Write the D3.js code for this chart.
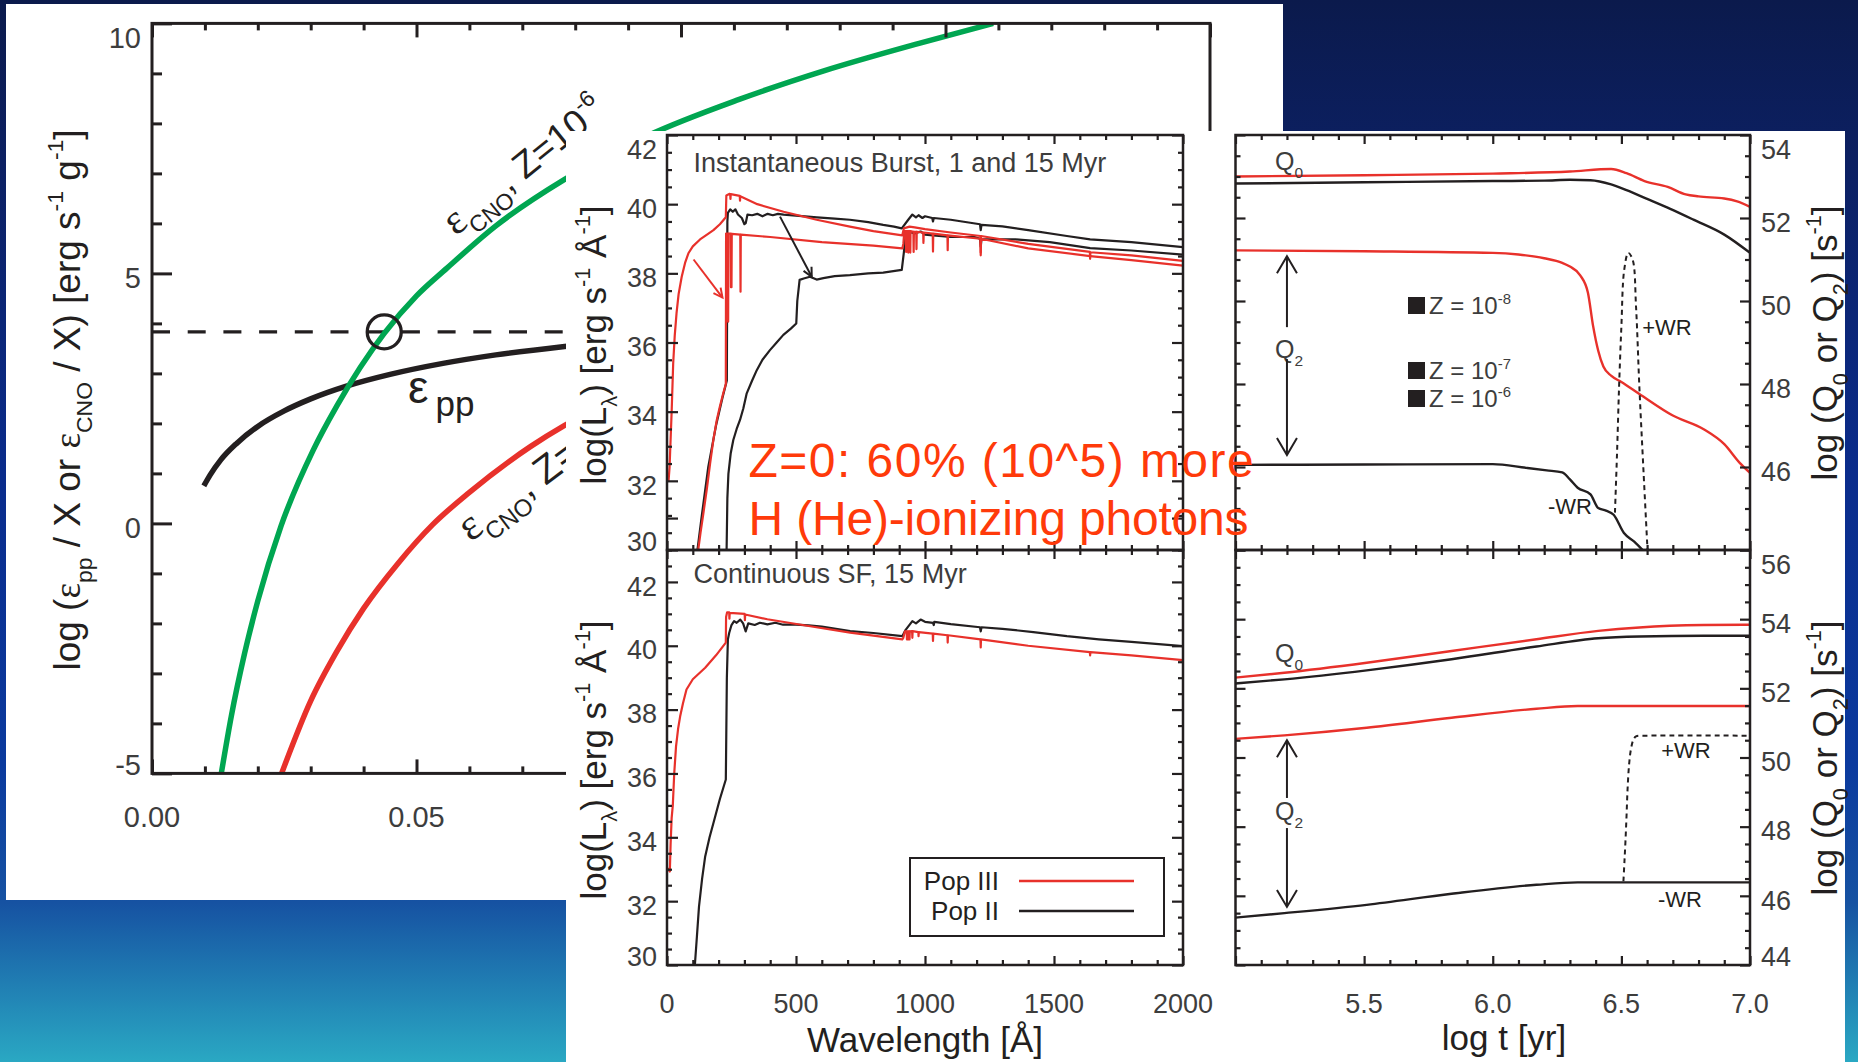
<!DOCTYPE html>
<html>
<head>
<meta charset="utf-8">
<script src="https://cdn.jsdelivr.net/npm/d3@7"></script>
<style>
  html, body { margin: 0; padding: 0; background: #0b1a4c; }
  svg { display: block; }
  text { font-family: "Liberation Sans", Arial, Helvetica, sans-serif; }
</style>
</head>
<body>
<svg id="chart" width="1858" height="1062"></svg>
<script>
// ---------------- Panel A: nuclear energy generation rates ----------------
// [x, log(eps/X)]
const eppCurve = [[0.0098,0.75],[0.011,0.97],[0.013,1.27],[0.016,1.6],[0.02,1.94],[0.025,2.25],
  [0.03,2.49],[0.0366,2.74],[0.045,2.98],[0.055,3.2],[0.065,3.37],[0.078,3.54],[0.09,3.67]];
const cnoZ6Curve = [[0.0131,-5],[0.015,-3.85],[0.0175,-2.6],[0.02,-1.55],[0.0244,-0.05],[0.0305,1.47],
  [0.035,2.36],[0.0439,3.8],[0.05,4.55],[0.0557,5.1],[0.065,5.95],[0.078,6.88],[0.0936,7.75],
  [0.111,8.48],[0.127,9.05],[0.145,9.6],[0.159,10]];
const cnoZ0Curve = [[0.0245,-5],[0.03,-3.55],[0.035,-2.55],[0.04,-1.7],[0.0465,-0.8],[0.0531,-0.02],
  [0.06,0.62],[0.0716,1.54],[0.078,1.96],[0.09,2.6]];
const eqLevel = 3.83;          // dashed reference level
const eqPoint = [0.0439, 3.83]; // circled crossing
const p1XTicks = [0, 0.05, 0.10, 0.15, 0.20];
const p1YTicks = [-5, 0, 5, 10];

// ---------------- Panel B: spectra, instantaneous burst ----------------
// [wavelength (A), log L_lambda]
const burstPop3Young = [[6,32.0],[10,32.4],[14,33.2],[18,34.0],[24,35.4],[30,36.2],[37,36.85],[45,37.4],
  [57,37.9],[70,38.3],[83,38.58],[100,38.78],[128,38.98],[155,39.12],[180,39.25],[205,39.42],[228,39.62],
  [230,40.25],[243,40.3],[245,40.29],[246,40.15],[247,40.29],[282,40.24],[283,40.1],[284,40.23],
  [350,40.0],[452,39.78],[580,39.55],[709,39.35],[800,39.22],[912,39.1],[918,39.3],[940,39.35],
  [960,39.33],[1000,39.28],[1100,39.18],[1215,39.08],[1216,38.6],[1217,39.08],[1400,38.85],
  [1639,38.62],[1640,38.42],[1641,38.61],[1800,38.52],[2000,38.36]];
const burstPop3Old = [[121,30.0],[130,30.5],[141,31.06],[155,31.8],[167,32.5],[180,33.2],[193,33.76],
  [205,34.15],[218,34.53],[228,34.8],[229,39.15],[236,39.15],[237,36.6],[238,39.15],[247,39.15],
  [248,37.6],[250,37.6],[251,39.14],[284,39.12],[285,37.47],[286,39.12],[400,39.05],[600,38.9],
  [800,38.8],[912,38.72],[916,38.85],[920,39.22],[926,39.22],[927,38.62],[928,39.22],[934,39.22],
  [935,38.6],[936,39.22],[942,39.22],[943,38.6],[944,39.22],[955,39.2],[956,38.62],[957,39.2],
  [966,39.2],[967,38.7],[968,39.2],[993,39.18],[994,38.88],[995,39.18],[1030,39.15],[1031,38.63],
  [1032,39.15],[1087,39.1],[1088,38.67],[1089,39.1],[1215,39.0],[1216,38.52],[1217,39.0],
  [1400,38.72],[1640,38.5],[1800,38.38],[2000,38.22]];
const burstPop2Young = [[118,30.0],[135,31.0],[160,32.4],[190,33.6],[215,34.4],[232,34.9],[234,39.5],
  [236,39.75],[245,39.85],[255,39.78],[265,39.85],[275,39.7],[290,39.6],[300,39.42],[305,39.45],
  [312,39.7],[330,39.68],[350,39.72],[370,39.65],[390,39.72],[410,39.68],[430,39.72],[452,39.7],
  [500,39.67],[581,39.62],[650,39.58],[709,39.55],[780,39.48],[838,39.4],[880,39.35],[910,39.3],
  [935,39.55],[951,39.7],[965,39.62],[975,39.68],[990,39.6],[1000,39.65],[1028,39.6],[1031,39.5],
  [1034,39.6],[1100,39.55],[1213,39.42],[1216,39.25],[1219,39.4],[1300,39.36],[1400,39.25],
  [1550,39.08],[1640,38.98],[1800,38.9],[2000,38.76]];
const burstPop2Old = [[231,30.0],[234,31.5],[238,32.2],[247,32.8],[257,33.18],[270,33.5],[283,33.76],
  [296,34.1],[309,34.53],[330,34.9],[348,35.2],[370,35.5],[399,35.78],[425,36.0],[451,36.22],
  [480,36.4],[501,36.55],[505,37.2],[514,37.81],[530,37.85],[554,37.9],[580,37.82],[606,37.86],
  [650,37.92],[709,37.95],[780,38.0],[838,38.02],[910,38.1],[918,38.6],[925,39.1],[940,39.2],
  [960,39.15],[983,39.21],[1000,39.12],[1031,39.1],[1100,39.05],[1192,39.05],[1213,39.0],
  [1216,38.77],[1219,38.98],[1352,38.98],[1484,38.9],[1640,38.73],[1800,38.66],[2000,38.54]];
// ageing arrows: [from, to] in data units
const burstArrows = [
  { from: [103, 38.4], to: [215, 37.3], pop: "III" },
  { from: [438, 39.64], to: [561, 37.9], pop: "II" }
];

// ---------------- Panel C: spectra, continuous star formation ----------------
const contPop3 = [[6,33.05],[9,32.95],[11,32.93],[14,33.8],[18,34.6],[22.5,35.0],[28,36.0],[35,36.85],
  [43,37.4],[51,37.79],[62,38.2],[75.5,38.63],[100,38.95],[148,39.31],[190,39.7],[228,40.1],
  [229,40.9],[233,41.05],[241,41.05],[242,40.85],[243,41.03],[301,41.0],[302,40.8],[303,40.98],
  [389,40.83],[549,40.62],[710,40.41],[912,40.2],[916,40.25],[922,40.45],[929,40.45],[930,40.2],
  [931,40.45],[934,40.45],[935,40.2],[936,40.45],[939,40.45],[940,40.2],[941,40.45],[950,40.46],
  [951,40.25],[952,40.46],[974,40.43],[975,40.3],[976,40.43],[1030,40.38],[1031,40.15],[1032,40.38],
  [1087,40.33],[1088,40.1],[1089,40.33],[1215,40.2],[1216,39.95],[1217,40.2],[1400,40.0],
  [1639,39.8],[1640,39.7],[1641,39.8],[1800,39.7],[2000,39.55]];
const contPop2 = [[108,30.0],[116,30.9],[124,31.83],[136,32.7],[148,33.4],[165,34.0],[180,34.45],
  [205,35.2],[228,35.81],[232,39.0],[236,40.2],[241,40.4],[250,40.65],[260,40.77],[270,40.72],
  [284,40.82],[295,40.7],[305,40.45],[315,40.7],[340,40.65],[360,40.72],[389,40.67],[420,40.72],
  [450,40.66],[500,40.66],[549,40.64],[600,40.6],[710,40.46],[800,40.4],[912,40.3],[925,40.5],
  [951,40.77],[965,40.7],[983,40.82],[1000,40.75],[1031,40.72],[1034,40.65],[1036,40.75],
  [1100,40.68],[1213,40.58],[1216,40.45],[1219,40.58],[1300,40.53],[1420,40.43],[1550,40.3],
  [1674,40.2],[1800,40.12],[2000,39.99]];
const specXTicks = [0, 500, 1000, 1500, 2000];
const burstYTicks = [30, 32, 34, 36, 38, 40, 42];
const contYTicks = [30, 32, 34, 36, 38, 40, 42];
const popLegend = [{ label: "Pop III", pop: "III" }, { label: "Pop II", pop: "II" }];

// ---------------- Panel D/E: ionizing photon rates ----------------
// [log t (yr), log Q]
const qBurstQ0Pop3 = [[5.0,53.0],[5.5,53.03],[6.0,53.07],[6.3,53.12],[6.46,53.18],[6.52,53.08],
  [6.59,52.89],[6.68,52.75],[6.75,52.57],[6.8,52.52],[6.9,52.47],[6.95,52.4],[7.0,52.27]];
const qBurstQ0Pop2 = [[5.0,52.83],[5.5,52.86],[6.0,52.89],[6.2,52.9],[6.3,52.92],[6.38,52.91],
  [6.46,52.81],[6.52,52.67],[6.6,52.46],[6.69,52.22],[6.78,51.96],[6.9,51.6],[7.0,51.16]];
const qBurstQ2Pop3 = [[5.0,51.22],[5.5,51.2],[6.0,51.16],[6.1,51.12],[6.2,51.03],[6.27,50.92],
  [6.3,50.83],[6.34,50.62],[6.37,50.2],[6.39,49.4],[6.41,48.8],[6.43,48.42],[6.46,48.2],[6.5,48.05],
  [6.57,47.76],[6.7,47.24],[6.82,46.91],[6.9,46.55],[6.96,46.1],[7.0,45.86]];
const qBurstQ2Pop2 = [[5.0,46.05],[5.5,46.06],[6.0,46.07],[6.13,45.98],[6.21,45.92],[6.27,45.87],
  [6.3,45.7],[6.33,45.5],[6.38,45.34],[6.41,45.01],[6.44,44.95],[6.47,44.85],[6.51,44.41],
  [6.55,44.2],[6.59,43.95]];
const qBurstQ2Pop2WR = [[6.475,44.9],[6.483,46.31],[6.491,47.92],[6.5,49.38],[6.511,50.75],
  [6.527,51.16],[6.544,50.99],[6.557,49.86],[6.57,47.92],[6.586,45.9],[6.602,43.96]];
const qContQ0Pop3 = [[5.0,52.31],[5.19,52.45],[5.51,52.74],[5.84,53.08],[6.17,53.42],[6.41,53.66],
  [6.57,53.76],[6.82,53.83],[7.0,53.84]];
const qContQ0Pop2 = [[5.0,52.14],[5.19,52.26],[5.51,52.52],[5.84,52.84],[6.17,53.21],[6.41,53.45],
  [6.57,53.5],[6.82,53.52],[7.0,53.52]];
const qContQ2Pop3 = [[5.0,50.54],[5.19,50.64],[5.51,50.86],[5.84,51.15],[6.17,51.41],[6.33,51.49],
  [6.49,51.49],[7.0,51.49]];
const qContQ2Pop2 = [[5.0,45.37],[5.19,45.5],[5.51,45.74],[5.84,46.06],[6.17,46.32],[6.33,46.39],
  [6.51,46.39],[7.0,46.39]];
const qContQ2Pop2WR = [[6.508,46.42],[6.512,47.0],[6.516,47.6],[6.52,48.3],[6.524,49.07],[6.53,49.8],
  [6.537,50.23],[6.546,50.5],[6.557,50.61],[6.6,50.63],[7.0,50.63]];
const qXTicks = [5.5, 6.0, 6.5, 7.0];
const qBurstYTicks = [46, 48, 50, 52, 54];
const qContYTicks = [44, 46, 48, 50, 52, 54, 56];
const metallicities = ["-8", "-7", "-6"];

// ---------------- styling ----------------
const INK = "#231f20", RED = "#e8312b", GREEN = "#00a651", GREY = "#3d3d3d", NOTE = "#ff3a0a";
const colorOf = pop => (pop === "III" ? RED : INK);

const svg = d3.select("#chart");
const defs = svg.append("defs");

// slide background
const bg = defs.append("linearGradient").attr("id", "slideBg")
  .attr("x1", 0).attr("y1", 0).attr("x2", 0).attr("y2", 1);
[[0, "#0b1a4c"], [0.15, "#0c2062"], [0.45, "#0a2c8c"], [0.72, "#0b3a9e"], [0.85, "#1652a2"], [1, "#2aa8c3"]]
  .forEach(([o, c]) => bg.append("stop").attr("offset", o).attr("stop-color", c));
svg.append("rect").attr("width", 1858).attr("height", 1062).attr("fill", "url(#slideBg)");

// ---------- helpers ----------
const steps = (a, b, s) => d3.range(Math.round((b - a) / s) + 1).map(i => +(a + i * s).toFixed(6));
const near = (v, set) => set.some(m => Math.abs(m - v) < 1e-6);

function tickSet(g, axis, scale, values, len, transform, width) {
  g.append("g").attr("transform", transform)
    .call(axis(scale).tickValues(values).tickSize(-len).tickSizeOuter(0).tickFormat(""))
    .call(a => {
      a.select(".domain").remove();
      a.selectAll("text").remove();
      a.selectAll("line").attr("stroke", INK).attr("stroke-width", width);
    });
}

function frame(g, xs, ys, o) {
  const [L, R] = xs.range(), [B, T] = ys.range();
  const inX = v => v >= xs.domain()[0] - 1e-9 && v <= xs.domain()[1] + 1e-9;
  const xMaj = steps(o.xDom[0], o.xDom[1], o.xMajor).filter(inX);
  const xMin = steps(o.xDom[0], o.xDom[1], o.xMinor).filter(v => !near(v, xMaj) && inX(v));
  const yMaj = steps(ys.domain()[0], ys.domain()[1], o.yMajor);
  const yMin = steps(ys.domain()[0], ys.domain()[1], o.yMinor).filter(v => !near(v, yMaj));
  const w = o.tickWidth;
  if (o.bottom) { tickSet(g, d3.axisBottom, xs, xMin, o.xMinLen, `translate(0,${B})`, w); tickSet(g, d3.axisBottom, xs, xMaj, o.xMajLen, `translate(0,${B})`, w); }
  if (o.top) { tickSet(g, d3.axisTop, xs, xMin, o.xMinLen, `translate(0,${T})`, w); tickSet(g, d3.axisTop, xs, xMaj, o.xMajLen, `translate(0,${T})`, w); }
  if (o.left) { tickSet(g, d3.axisLeft, ys, yMin, o.yMinLen, `translate(${L},0)`, w); tickSet(g, d3.axisLeft, ys, yMaj, o.yMajLen, `translate(${L},0)`, w); }
  if (o.right) { tickSet(g, d3.axisRight, ys, yMin, o.yMinLen, `translate(${R},0)`, w); tickSet(g, d3.axisRight, ys, yMaj, o.yMajLen, `translate(${R},0)`, w); }
  g.append("rect").attr("x", L).attr("y", T).attr("width", R - L).attr("height", B - T)
    .attr("fill", "none").attr("stroke", INK).attr("stroke-width", o.frameWidth);
}

function clipFor(id, xs, ys) {
  const [L, R] = xs.range(), [B, T] = ys.range();
  defs.append("clipPath").attr("id", id).append("rect")
    .attr("x", L).attr("y", T).attr("width", R - L).attr("height", B - T);
  return `url(#${id})`;
}

// y tick labels: centred on the tick, kept inside the frame
function yLabels(g, ys, values, x, anchor, size, fmt) {
  const [B, T] = ys.range();
  g.selectAll(null).data(values).join("text")
    .attr("x", x).attr("text-anchor", anchor)
    .attr("y", v => Math.min(Math.max(ys(v) + 4, T + 14), B - 9) + size * 0.36)
    .attr("font-size", size).attr("fill", GREY)
    .text(fmt || (v => v));
}
function xLabels(g, xs, values, yCenter, size, fmt) {
  g.selectAll(null).data(values).join("text")
    .attr("x", v => xs(v)).attr("y", yCenter + size * 0.36).attr("text-anchor", "middle")
    .attr("font-size", size).attr("fill", GREY)
    .text(fmt || (v => v));
}

// text with sub/superscripts: parts = [[string, "n"|"sub"|"sup", extra attrs]]
function rich(t, parts, size, supShift) {
  let cur = 0;
  parts.forEach(([s, k, extra]) => {
    const target = k === "sub" ? size * 0.32 : k === "sup" ? -size * (supShift || 0.45) : 0;
    const ts = t.append("tspan").attr("dy", target - cur)
      .attr("font-size", k === "n" ? size : size * 0.62).text(s);
    if (extra) Object.entries(extra).forEach(([a, v]) => ts.attr(a, v));
    cur = target;
  });
  return t;
}

function arrowHead(g, x, y, angle, len, half, color, width) {
  const c = Math.cos(angle), s = Math.sin(angle);
  const p1 = [x - len * c + half * s, y - len * s - half * c];
  const p2 = [x - len * c - half * s, y - len * s + half * c];
  g.append("path").attr("d", `M${p1}L${x},${y}L${p2}`)
    .attr("fill", "none").attr("stroke", color).attr("stroke-width", width);
}

// ======================= Panel A =======================
const gA = svg.append("g");
gA.append("rect").attr("x", 6).attr("y", 4).attr("width", 1277).attr("height", 896).attr("fill", "#fff");
const xA = d3.scaleLinear().domain([0, 0.2]).range([152, 1210]);
const yA = d3.scaleLinear().domain([-5, 10]).range([773.4, 23.4]);
const clipA = clipFor("clipA", xA, yA);

const lineA = d3.line().x(d => xA(d[0])).y(d => yA(d[1])).curve(d3.curveMonotoneX);
const curvesA = gA.append("g").attr("clip-path", clipA);
curvesA.append("line").attr("x1", xA(0)).attr("x2", xA(0.2)).attr("y1", yA(eqLevel)).attr("y2", yA(eqLevel))
  .attr("stroke", INK).attr("stroke-width", 3.3).attr("stroke-dasharray", "18,17.7");
curvesA.append("path").datum(eppCurve).attr("d", lineA).attr("fill", "none").attr("stroke", INK).attr("stroke-width", 5.5);
curvesA.append("path").datum(cnoZ0Curve).attr("d", lineA).attr("fill", "none").attr("stroke", RED).attr("stroke-width", 5.5);
curvesA.append("path").datum(cnoZ6Curve).attr("d", lineA).attr("fill", "none").attr("stroke", GREEN).attr("stroke-width", 5.5);
curvesA.append("circle").attr("cx", xA(eqPoint[0])).attr("cy", yA(eqPoint[1])).attr("r", 17)
  .attr("fill", "none").attr("stroke", INK).attr("stroke-width", 3.3);

// frame with inward ticks (no ticks on the right side)
frame(gA, xA, yA, {
  xDom: [0, 0.2], xMajor: 0.05, xMinor: 0.01, yMajor: 5, yMinor: 1,
  xMajLen: 14, xMinLen: 7, yMajLen: 20, yMinLen: 10,
  top: true, bottom: true, left: true, right: false, tickWidth: 3, frameWidth: 3
});
yLabels(gA, yA, p1YTicks, 141, "end", 29);
xLabels(gA, xA, p1XTicks, 817, 29, d3.format(".2f"));

// axis title
rich(gA.append("text").attr("transform", "translate(80,400) rotate(-90)").attr("text-anchor", "middle")
  .attr("fill", INK), [
  ["log (", "n"], ["ε", "n", { "font-family": "Liberation Serif" }], ["pp", "sub"], [" / X or ", "n"],
  ["ε", "n", { "font-family": "Liberation Serif" }], ["CNO", "sub"], [" / X) [erg s", "n"], ["-1", "sup"],
  [" g", "n"], ["-1", "sup"], ["]", "n"]], 37);

// curve labels
gA.append("text").attr("x", xA(0.0484)).attr("y", yA(2.41)).attr("font-size", 46)
  .attr("font-family", "Liberation Serif").attr("fill", INK).text("ε");
gA.append("text").attr("x", xA(0.0536)).attr("y", yA(2.15)).attr("font-size", 35).attr("fill", INK).text("pp");
rich(gA.append("text").attr("transform", `translate(${xA(0.0574)},${yA(5.74)}) rotate(-39)`).attr("fill", INK), [
  ["ε", "n", { "font-family": "Liberation Serif", "font-size": 42 }], ["CNO", "sub"], [", Z=10", "n"], ["-6", "sup"]], 37);
rich(gA.append("text").attr("transform", `translate(${xA(0.0602)},${yA(-0.38)}) rotate(-37)`).attr("fill", INK), [
  ["ε", "n", { "font-family": "Liberation Serif", "font-size": 44 }], ["CNO", "sub"], [", Z=0", "n"]], 39);

// ======================= white sheet for the right-hand panels =======================
svg.append("rect").attr("x", 566).attr("y", 131).attr("width", 1845 - 566).attr("height", 1062 - 131).attr("fill", "#fff");

// ======================= Panels B/C: spectra =======================
const gS = svg.append("g");
const xS = d3.scaleLinear().domain([0, 2000]).range([667, 1183]);
const yBurst = d3.scaleLinear().domain([30, 42]).range([550, 135]);
const yCont = d3.scaleLinear().domain([30, 43]).range([965, 550]);
const clipB = clipFor("clipB", xS, yBurst), clipC = clipFor("clipC", xS, yCont);

function specLines(g, ys, clip, series) {
  const ln = d3.line().x(d => xS(d[0])).y(d => ys(d[1]));
  const gg = g.append("g").attr("clip-path", clip);
  series.forEach(([data, pop]) => gg.append("path").datum(data).attr("d", ln)
    .attr("fill", "none").attr("stroke", colorOf(pop)).attr("stroke-width", 2.2).attr("stroke-linejoin", "round"));
}
specLines(gS, yBurst, clipB, [[burstPop2Old, "II"], [burstPop2Young, "II"], [burstPop3Old, "III"], [burstPop3Young, "III"]]);
specLines(gS, yCont, clipC, [[contPop2, "II"], [contPop3, "III"]]);

burstArrows.forEach(a => {
  const x0 = xS(a.from[0]), y0 = yBurst(a.from[1]), x1 = xS(a.to[0]), y1 = yBurst(a.to[1]);
  gS.append("line").attr("x1", x0).attr("y1", y0).attr("x2", x1).attr("y2", y1)
    .attr("stroke", colorOf(a.pop)).attr("stroke-width", 2);
  arrowHead(gS, x1, y1, Math.atan2(y1 - y0, x1 - x0), 9, 4.5, colorOf(a.pop), 2);
});

const specFrame = { xDom: [0, 2000], xMajor: 500, xMinor: 100, yMajor: 2, yMinor: 0.5,
  xMajLen: 9, xMinLen: 5, yMajLen: 11, yMinLen: 5, top: true, bottom: true, left: true, right: true,
  tickWidth: 2.2, frameWidth: 2.5 };
frame(gS, xS, yBurst, specFrame);
frame(gS, xS, yCont, specFrame);
yLabels(gS, yBurst, burstYTicks, 657, "end", 27);
yLabels(gS, yCont, contYTicks, 657, "end", 27);
xLabels(gS, xS, specXTicks, 1003, 27);

gS.append("text").attr("x", 693.5).attr("y", 171.7).attr("font-size", 27).attr("fill", GREY)
  .text("Instantaneous Burst, 1 and 15 Myr");
gS.append("text").attr("x", 693.5).attr("y", 583).attr("font-size", 27).attr("fill", GREY)
  .text("Continuous SF, 15 Myr");

const specTitle = [["log(L", "n"], ["λ", "sub"], [")  [erg s", "n"], ["-1", "sup"], [" Å", "n"], ["-1", "sup"], ["]", "n"]];
[345, 760].forEach(cy => rich(gS.append("text").attr("transform", `translate(606,${cy}) rotate(-90)`)
  .attr("text-anchor", "middle").attr("fill", INK), specTitle, 35));
gS.append("text").attr("x", 925).attr("y", 1052).attr("text-anchor", "middle").attr("font-size", 35)
  .attr("fill", INK).text("Wavelength [Å]");

// legend
const lg = gS.append("g");
lg.append("rect").attr("x", 910).attr("y", 858).attr("width", 254).attr("height", 78)
  .attr("fill", "#fff").attr("stroke", INK).attr("stroke-width", 2);
popLegend.forEach((d, i) => {
  const cy = 881 + i * 30;
  lg.append("text").attr("x", 999).attr("y", cy + 9).attr("text-anchor", "end").attr("font-size", 26)
    .attr("fill", INK).text(d.label);
  lg.append("line").attr("x1", 1019).attr("x2", 1134).attr("y1", cy).attr("y2", cy)
    .attr("stroke", colorOf(d.pop)).attr("stroke-width", 2.5);
});

// ======================= Panels D/E: ionizing photons =======================
const gQ = svg.append("g");
const xQ = d3.scaleLinear().domain([5, 7]).range([1235.5, 1750]);
const yQB = d3.scaleLinear().domain([44, 54]).range([550, 135]);
const yQC = d3.scaleLinear().domain([44, 56]).range([965, 550]);
const clipD = clipFor("clipD", xQ, yQB), clipE = clipFor("clipE", xQ, yQC);

function qLines(ys, clip, series) {
  const gg = gQ.append("g").attr("clip-path", clip);
  series.forEach(([data, pop, dashed]) => {
    const ln = d3.line().x(d => xQ(d[0])).y(d => ys(d[1])).curve(dashed ? d3.curveCatmullRom : d3.curveMonotoneX);
    gg.append("path").datum(data).attr("d", ln).attr("fill", "none")
      .attr("stroke", colorOf(pop)).attr("stroke-width", dashed ? 2 : 2.4)
      .attr("stroke-dasharray", dashed ? "5,4" : null);
  });
}
qLines(yQB, clipD, [[qBurstQ0Pop2, "II"], [qBurstQ0Pop3, "III"], [qBurstQ2Pop3, "III"], [qBurstQ2Pop2, "II"], [qBurstQ2Pop2WR, "II", true]]);
qLines(yQC, clipE, [[qContQ0Pop2, "II"], [qContQ0Pop3, "III"], [qContQ2Pop3, "III"], [qContQ2Pop2, "II"], [qContQ2Pop2WR, "II", true]]);

const qFrame = { xDom: [5, 7], xMajor: 0.5, xMinor: 0.1, yMajor: 2, yMinor: 0.5,
  xMajLen: 9, xMinLen: 5, yMajLen: 10, yMinLen: 5, top: true, bottom: true, left: true, right: true,
  tickWidth: 2.2, frameWidth: 2.5 };
frame(gQ, xQ, yQB, qFrame);
frame(gQ, xQ, yQC, qFrame);
yLabels(gQ, yQB, qBurstYTicks, 1761, "start", 27);
yLabels(gQ, yQC, qContYTicks, 1761, "start", 27);
xLabels(gQ, xQ, qXTicks, 1003, 27, d3.format(".1f"));

const qTitle = [["log (Q", "n"], ["0", "sub"], [" or Q", "n"], ["2", "sub"], [")  [s", "n"], ["-1", "sup"], ["]", "n"]];
[343, 758].forEach(cy => rich(gQ.append("text").attr("transform", `translate(1837,${cy}) rotate(-90)`)
  .attr("text-anchor", "middle").attr("fill", INK), qTitle, 35));
gQ.append("text").attr("x", 1504).attr("y", 1050).attr("text-anchor", "middle").attr("font-size", 35)
  .attr("fill", INK).text("log t [yr]");

// Q0 / Q2 markers and the Q2 span arrows
const qMarks = [
  { ys: yQB, q0: 53.36, top: 51.08, bottom: 46.29, gapTop: 49.37, gapBottom: 48.6, label: 48.82 },
  { ys: yQC, q0: 53.0, top: 50.5, bottom: 45.68, gapTop: 48.83, gapBottom: 47.96, label: 48.43 }
];
qMarks.forEach(m => {
  const x = xQ(5.2);
  rich(gQ.append("text").attr("x", x - 12).attr("y", m.ys(m.q0) + 8).attr("fill", GREY), [["Q", "n"], ["0", "sub"]], 25);
  rich(gQ.append("text").attr("x", x - 12).attr("y", m.ys(m.label) + 8).attr("fill", GREY), [["Q", "n"], ["2", "sub"]], 25);
  [[m.top, m.gapTop], [m.gapBottom, m.bottom]].forEach(([a, b]) => gQ.append("line")
    .attr("x1", x).attr("x2", x).attr("y1", m.ys(a)).attr("y2", m.ys(b)).attr("stroke", INK).attr("stroke-width", 2));
  arrowHead(gQ, x, m.ys(m.top), -Math.PI / 2, 17, 10, INK, 2);
  arrowHead(gQ, x, m.ys(m.bottom), Math.PI / 2, 17, 10, INK, 2);
});

// Wolf-Rayet notes
[[yQB, "-WR", 6.30, 45.04], [yQB, "+WR", 6.677, 49.35], [yQC, "+WR", 6.751, 50.19], [yQC, "-WR", 6.728, 45.88]]
  .forEach(([ys, s, t, q]) => gQ.append("text").attr("x", xQ(t)).attr("y", ys(q) + 7.5)
    .attr("text-anchor", "middle").attr("font-size", 22).attr("fill", INK).text(s));

// metallicity key
[[297, 314], [362, 379], [390, 407]].forEach(([sy, by], i) => {
  gQ.append("rect").attr("x", 1408).attr("y", sy).attr("width", 17).attr("height", 17).attr("fill", INK);
  rich(gQ.append("text").attr("x", 1429).attr("y", by).attr("fill", GREY),
    [["Z = 10", "n"], [metallicities[i], "sup"]], 24, 0.4);
});

// ======================= headline note =======================
const note = svg.append("g").attr("fill", NOTE).attr("font-size", 48);
note.append("text").attr("x", 748.6).attr("y", 477).attr("textLength", 505).attr("lengthAdjust", "spacing")
  .text("Z=0: 60% (10^5) more");
note.append("text").attr("x", 748.6).attr("y", 535).attr("textLength", 500).attr("lengthAdjust", "spacing")
  .text("H (He)-ionizing photons");
</script>
</body>
</html>
